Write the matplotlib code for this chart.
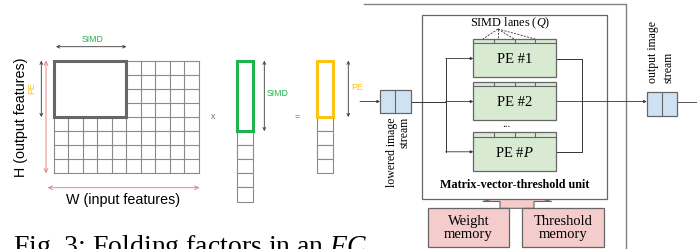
import matplotlib.pyplot as plt
from matplotlib.patches import Rectangle, Polygon

# matrix folding data
n_cols = 10          # W (input features)
n_rows = 8           # H (output features)
simd = 5
pe = 4
pe_labels = ["PE #1", "PE #2", "PE #$P$"]
n_lanes = 4
memory_labels = ["Weight\nmemory", "Threshold\nmemory"]

GRID = "#8a8a8a"
DARK = "#666666"
LINE = "#555555"
RED = "#e87272"
GREEN = "#1fb24f"
YELLOW = "#ffc20e"
SANS = "Liberation Sans"
SERIF = "Liberation Serif"

plt.rcParams["mathtext.fontset"] = "custom"
plt.rcParams["mathtext.rm"] = "Liberation Serif"
plt.rcParams["mathtext.it"] = "Liberation Serif:italic"

fig = plt.figure(figsize=(6.97, 2.49), dpi=100)
ax = fig.add_axes([0, 0, 1, 1])
ax.set_xlim(0, 697)
ax.set_ylim(249, 0)
ax.axis("off")


def arrow(x0, y0, x1, y1, color="#333333", style="<->", lw=0.6, ms=5):
    ax.annotate("", xy=(x1, y1), xytext=(x0, y0),
                arrowprops=dict(arrowstyle=style, color=color, lw=lw,
                                mutation_scale=ms, shrinkA=0, shrinkB=0))


# ---- left: weight matrix ----
mx, my = 54, 60.7
cw, ch = 14.47, 14.08
for i in range(n_cols + 1):
    ax.plot([mx + i * cw] * 2, [my, my + n_rows * ch], color=GRID, lw=0.8)
for j in range(n_rows + 1):
    ax.plot([mx, mx + n_cols * cw], [my + j * ch] * 2, color=GRID, lw=0.8)
ax.add_patch(Rectangle((mx, my), simd * cw, pe * ch, facecolor="white",
                       edgecolor=DARK, lw=2.2, zorder=3))

arrow(mx + 2, 46.7, mx + simd * cw, 46.7)
ax.text(mx + simd * cw / 2 + 2, 39, "SIMD", color=GREEN, fontsize=6.3,
        family=SANS, ha="center", va="center")
arrow(41.3, my, 41.3, my + pe * ch)
ax.text(32, 88, "PE", color=YELLOW, fontsize=6.3, family=SANS, rotation=90,
        ha="center", va="center")
arrow(46, my, 46, my + n_rows * ch, color=RED, ms=7)
ax.text(21.5, my + n_rows * ch / 2, "H (output features)", fontsize=10.3,
        family=SANS, rotation=90, ha="center", va="center")
arrow(47.7, 187.7, 199.3, 187.7, color=RED, ms=7)
ax.text(123, 200, "W (input features)", fontsize=10.3, family=SANS,
        ha="center", va="center")

# input vector
vx, vw = 237.3, 16
for j in range(n_cols):
    ax.add_patch(Rectangle((vx, my + j * ch), vw, ch, facecolor="white",
                           edgecolor=GRID, lw=0.8))
ax.add_patch(Rectangle((vx, my), vw, simd * ch, facecolor="white",
                       edgecolor=GREEN, lw=2.2, zorder=3))
arrow(264.3, my, 264.3, my + simd * ch)
ax.text(278, 93.3, "SIMD", color=GREEN, fontsize=6.3, family=SANS,
        ha="center", va="center")
ax.text(212.7, 116.7, "x", color="#777777", fontsize=6.5, family=SANS,
        ha="center", va="center")
ax.text(296.7, 116.7, "=", color="#777777", fontsize=6.5, family=SANS,
        ha="center", va="center")

# output vector
ox = 316.7
for j in range(n_rows):
    ax.add_patch(Rectangle((ox, my + j * ch), vw, ch, facecolor="white",
                           edgecolor=GRID, lw=0.8))
ax.add_patch(Rectangle((ox, my), vw, pe * ch, facecolor="white",
                       edgecolor=YELLOW, lw=2.2, zorder=3))
arrow(348.3, my, 348.3, my + pe * ch)
ax.text(357, 87, "PE", color=YELLOW, fontsize=6.3, family=SANS,
        ha="center", va="center")

ax.text(13, 254, "Fig. 3: Folding factors in an $FC$", fontsize=20,
        family=SERIF, ha="left", va="baseline")

# ---- right: matrix-vector-threshold unit ----
ax.plot([364, 626, 626], [4, 4, 249], color="#808080", lw=1)
ax.add_patch(Rectangle((422.3, 14.5), 184.4, 184.5, facecolor="white",
                       edgecolor=DARK, lw=0.9, zorder=2))

px0, pw, ph, strip = 473.3, 82.4, 38.3, 4.3
pe_tops = [39, 82, 132.3]
lane_w = pw / n_lanes
ymid = [t + 19.5 for t in pe_tops]
for t, lab in zip(pe_tops, pe_labels):
    ax.add_patch(Rectangle((px0, t), pw, ph, facecolor="#d9ead3",
                           edgecolor=DARK, lw=0.9, zorder=4))
    ax.plot([px0, px0 + pw], [t + strip] * 2, color=DARK, lw=0.8, zorder=5)
    for k in range(1, n_lanes):
        ax.plot([px0 + k * lane_w] * 2, [t, t + strip], color=DARK, lw=0.8,
                zorder=5)
    ax.text(px0 + pw / 2, t + strip + (ph - strip) / 2 - 1, lab, fontsize=10.5,
            family=SERIF, ha="center", va="center", zorder=6)
ax.text(506.7, 124, "...", fontsize=8, family=SERIF, ha="center",
        va="center", zorder=6)

ax.text(510, 23, "SIMD lanes ($Q$)", fontsize=8.8, family=SERIF,
        ha="center", va="center", zorder=6)
for ex in [483, 498, 514, 535]:
    ax.plot([498, ex], [29, 39], color="#333333", lw=0.6, ls=(0, (2.5, 1.5)),
            zorder=6)

# input stream
yl = 101.5
arrow(360, yl, 380, yl, color="#333333", style="-|>", ms=4)
ax.add_patch(Rectangle((380, 90), 30.7, 23.3, facecolor="#cfe2f3",
                       edgecolor=DARK, lw=0.9, zorder=4))
ax.plot([395.3, 395.3], [90, 113.3], color=DARK, lw=0.8, zorder=5)
ax.plot([410.7, 445.7], [yl, yl], color="#333333", lw=0.7, zorder=3)
ax.plot([445.7, 445.7], [ymid[0], ymid[2]], color="#333333", lw=0.7, zorder=3)
for y in ymid:
    arrow(445.7, y, px0, y, color="#333333", style="-|>", ms=4)
ax.text(391.7, 117, "lowered image", fontsize=8.5, family=SERIF,
        rotation=90, ha="center", va="top")
ax.text(405, 117, "stream", fontsize=8.5, family=SERIF, rotation=90,
        ha="center", va="top")

# output stream
ax.plot([px0 + pw, 581.7, 581.7, px0 + pw],
        [ymid[0], ymid[0], ymid[2], ymid[2]], color="#333333", lw=0.7,
        zorder=3)
arrow(px0 + pw, yl, 646.7, yl, color="#333333", style="-|>", ms=4)
ax.add_patch(Rectangle((646.7, 92.3), 30, 23.7, facecolor="#cfe2f3",
                       edgecolor=DARK, lw=0.9, zorder=4))
ax.plot([661.7, 661.7], [92.3, 116], color=DARK, lw=0.8, zorder=5)
ax.plot([676.7, 697], [yl, yl], color="#555555", lw=0.7)
ax.text(653.3, 83.3, "output image", fontsize=8.5, family=SERIF,
        rotation=90, ha="center", va="bottom")
ax.text(668.3, 83.3, "stream", fontsize=8.5, family=SERIF, rotation=90,
        ha="center", va="bottom")

ax.text(514.3, 185, "Matrix-vector-threshold unit", fontsize=8.7,
        family=SERIF, weight="bold", ha="center", va="center", zorder=6)

# memories feeding the unit
ax.add_patch(Polygon([(500, 208.3), (500, 201.5), (482.7, 201.5),
                      (517, 193), (551.7, 201.5), (534, 201.5), (534, 208.3)],
                     closed=True, facecolor="#f4cccc", edgecolor=DARK,
                     lw=0.8, zorder=1))
mem_x = [427.7, 522.3]
for x, lab in zip(mem_x, memory_labels):
    ax.add_patch(Rectangle((x, 208.3), 81.7, 38.4, facecolor="#f4cccc",
                           edgecolor=DARK, lw=0.9, zorder=4))
    ax.text(x + 81.7 / 2, 227.5, lab, fontsize=10.5, family=SERIF,
            ha="center", va="center", linespacing=1.0, zorder=6)

fig.savefig("out.png", dpi=100)
